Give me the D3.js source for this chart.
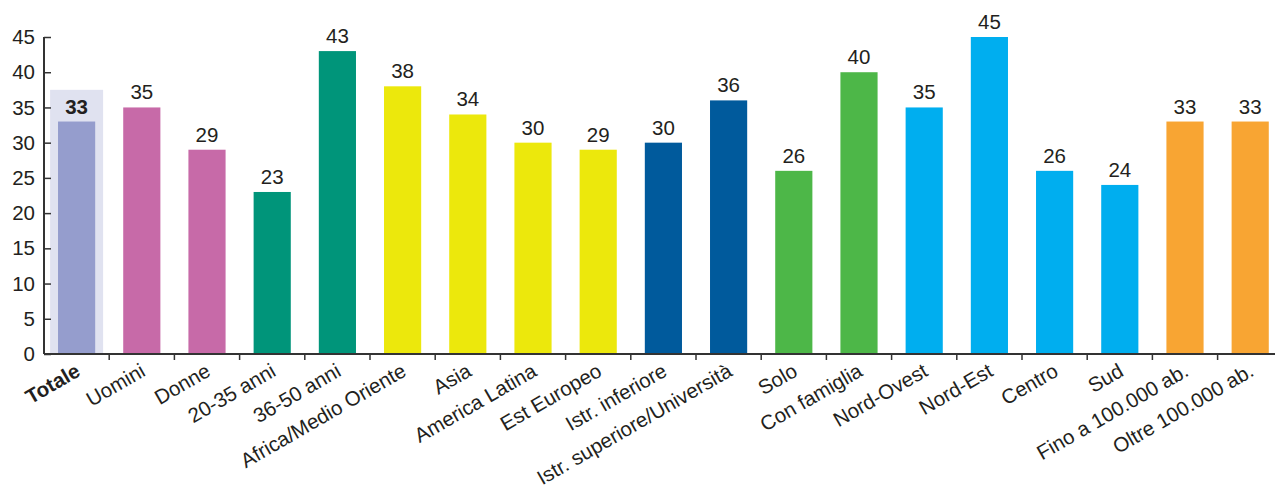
<!DOCTYPE html>
<html lang="it">
<head>
<meta charset="utf-8">
<script src="https://cdn.jsdelivr.net/npm/d3@7"></script>
<style>
  html, body { margin: 0; padding: 0; background: #fff; }
  text { font-family: "Liberation Sans", Arial, sans-serif; fill: #231f20; }
  .axis path, .axis line { stroke: #333; }
</style>
</head>
<body>
<svg id="chart" width="1275" height="495"></svg>
<script>
// categories and values
var categories = ["Totale", "Uomini", "Donne", "20-35 anni", "36-50 anni",
  "Africa/Medio Oriente", "Asia", "America Latina", "Est Europeo",
  "Istr. inferiore", "Istr. superiore/Università", "Solo", "Con famiglia",
  "Nord-Ovest", "Nord-Est", "Centro", "Sud", "Fino a 100.000 ab.", "Oltre 100.000 ab."];
var values = [33, 35, 29, 23, 43, 38, 34, 30, 29, 30, 36, 26, 40, 35, 45, 26, 24, 33, 33];
var groups = ["tot", "sesso", "sesso", "eta", "eta", "orig", "orig", "orig", "orig",
  "istr", "istr", "fam", "fam", "area", "area", "area", "area", "comune", "comune"];
var yTicks = [0, 5, 10, 15, 20, 25, 30, 35, 40, 45];
var totaleBox = 37.5;

var groupColor = {
  tot: "#959dcd", sesso: "#c76aa8", eta: "#00957a", orig: "#ece80c",
  istr: "#005a9c", fam: "#4db748", area: "#00aeef", comune: "#f8a533"
};

var svg = d3.select("#chart");
var left = 44, bandW = 65.2;

var x = d3.scaleBand()
  .domain(categories)
  .range([left, left + bandW * categories.length])
  .paddingInner(0.43)
  .paddingOuter(0.215);

var y = d3.scaleLinear().domain([0, 45]).range([354, 37]);

// light box behind Totale
svg.append("rect")
  .attr("x", x("Totale") + x.bandwidth() / 2 - 26.5)
  .attr("width", 53)
  .attr("y", y(totaleBox))
  .attr("height", y(0) - y(totaleBox))
  .attr("fill", "#e0e2f0");

svg.selectAll(".bar")
  .data(categories)
  .enter().append("rect")
  .attr("class", "bar")
  .attr("x", function(d) { return x(d); })
  .attr("width", x.bandwidth())
  .attr("y", function(d, i) { return y(values[i]); })
  .attr("height", function(d, i) { return y(0) - y(values[i]); })
  .attr("fill", function(d, i) { return groupColor[groups[i]]; });

svg.selectAll(".val")
  .data(categories)
  .enter().append("text")
  .attr("class", "val")
  .attr("x", function(d) { return x(d) + x.bandwidth() / 2; })
  .attr("y", function(d, i) { return y(values[i]) - 8; })
  .attr("text-anchor", "middle")
  .style("font-size", "20.5px")
  .style("font-weight", function(d, i) { return i == 0 ? "bold" : "normal"; })
  .text(function(d, i) { return values[i]; });

// y axis, ticks pointing inward
var yAxis = svg.append("g")
  .attr("class", "axis")
  .attr("transform", "translate(" + left + ",0)")
  .call(d3.axisRight(y).tickValues(yTicks).tickSize(7));
yAxis.select(".domain").attr("stroke-width", 2).attr("d", "M0," + y(45) + "V" + y(0));
yAxis.selectAll("line").attr("stroke-width", 1.5);
yAxis.selectAll("text")
  .attr("x", -9)
  .attr("text-anchor", "end")
  .style("font-size", "20.5px");

// x axis with ticks at band edges
svg.append("line")
  .attr("x1", left).attr("x2", 1275)
  .attr("y1", y(0)).attr("y2", y(0))
  .attr("stroke", "#333").attr("stroke-width", 2);

var edges = d3.range(1, categories.length).map(function(i) { return left + bandW * i; });
svg.selectAll(".xtick")
  .data(edges)
  .enter().append("line")
  .attr("class", "xtick")
  .attr("x1", function(d) { return d; }).attr("x2", function(d) { return d; })
  .attr("y1", y(0)).attr("y2", y(0) + 6)
  .attr("stroke", "#333").attr("stroke-width", 1.5);

svg.selectAll(".xlab")
  .data(categories)
  .enter().append("text")
  .attr("class", "xlab")
  .attr("text-anchor", "end")
  .attr("transform", function(d) {
    return "translate(" + (x(d) + x.bandwidth() / 2 + 5) + "," + 375 + ") rotate(-30)";
  })
  .style("font-size", "20.5px")
  .style("font-weight", function(d, i) { return i == 0 ? "bold" : "normal"; })
  .text(function(d) { return d; });
</script>
</body>
</html>
